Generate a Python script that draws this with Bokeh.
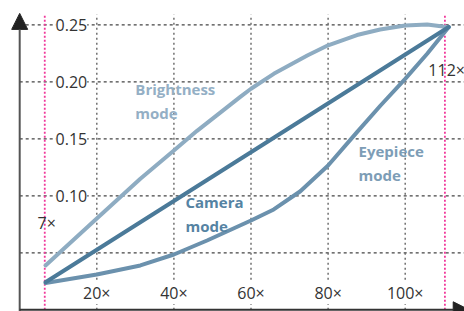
from bokeh.plotting import figure
from bokeh.models import Arrow, NormalHead
from bokeh.core.properties import value
from bokeh.embed import file_html
from bokeh.resources import INLINE

# ---- data ----
bright_x = [6.7, 20, 31.3, 40, 46, 57.3, 60, 65.9, 74.6, 80, 87.5, 93.5, 100, 105.7, 111.3]
bright_y = [0.0389, 0.080, 0.115, 0.1397, 0.157, 0.187, 0.1939, 0.207, 0.223, 0.232,
            0.241, 0.2458, 0.2494, 0.2503, 0.2479]

camera_x = [6.7, 111.3]
camera_y = [0.0242, 0.248]

eye_x = [6.7, 20, 31.3, 40, 48.6, 60, 65.9, 72.8, 80, 87.5, 93.6, 100, 105.7, 111.3]
eye_y = [0.0235, 0.031, 0.0389, 0.0485, 0.0608, 0.0783, 0.0880, 0.1040, 0.1266, 0.1558,
         0.1792, 0.2026, 0.2246, 0.248]

x_ticks = [20, 40, 60, 80, 100]
x_tick_labels = ["20×", "40×", "60×", "80×", "100×"]
y_grid = [0.05, 0.10, 0.15, 0.20, 0.25]
y_ticks = [0.10, 0.15, 0.20, 0.25]
y_tick_labels = ["0.10", "0.15", "0.20", "0.25"]

mag_lines = [6.5, 110.3]
mag_labels = ["7×", "112×"]

FONT = value("Open Sans")
X0, X1 = -4.98, 115.38
Y0, Y1 = -0.0015, 0.2713
TOP = 0.259

p = figure(width=464, height=311, x_range=(X0, X1), y_range=(Y0, Y1),
           x_axis_type=None, y_axis_type=None, output_backend="svg",
           toolbar_location=None, min_border=0, outline_line_color=None)
p.grid.visible = False
p.background_fill_color = "white"

# grid lines
p.segment(x0=[0] * len(y_grid), x1=[X1] * len(y_grid), y0=y_grid, y1=y_grid,
          line_color="#444444", line_dash="3 3", line_width=1.2)
p.segment(x0=x_ticks, x1=x_ticks, y0=[0] * len(x_ticks), y1=[TOP] * len(x_ticks),
          line_color="#707070", line_dash="2 3", line_width=1.5)

# magnification limits
p.segment(x0=mag_lines, x1=mag_lines, y0=[0, 0], y1=[TOP, TOP],
          line_color="#f0399b", line_dash="2 2", line_width=1.8)

# curves
p.line(bright_x, bright_y, line_color="#8eacc2", line_width=4, line_cap="round", line_join="round")
p.line(eye_x, eye_y, line_color="#6b91ad", line_width=4, line_cap="round", line_join="round")
p.line(camera_x, camera_y, line_color="#4b7a99", line_width=4, line_cap="round", line_join="round")

# tick labels
p.text(x=[13.4] * len(y_ticks), y=y_ticks, text=y_tick_labels, text_font=FONT,
       text_font_size="16px", text_color="#333333", text_align="center",
       text_baseline="middle", background_fill_color="white")
p.text(x=x_ticks, y=[0.0147] * len(x_ticks), text=x_tick_labels, text_font=FONT,
       text_font_size="16px", text_color="#333333", text_align="center",
       text_baseline="middle", background_fill_color="white")

# magnification labels
p.text(x=[7.0], y=[0.0765], text=[mag_labels[0]], text_font=FONT, text_font_size="16px",
       text_color="#333333", text_align="center", text_baseline="middle")
p.text(x=[106.0], y=[0.2107], text=[mag_labels[1]], text_font=FONT, text_font_size="16px",
       text_color="#333333", text_align="left", text_baseline="middle")

# series labels
p.text(x=[30.0], y=[0.2022], text=["Brightness\nmode"], text_font=FONT, text_font_size="15px",
       text_font_style="bold", text_color="#94afc5", text_align="left", text_baseline="top")
p.text(x=[43.0], y=[0.1031], text=["Camera\nmode"], text_font=FONT, text_font_size="15px",
       text_font_style="bold", text_color="#5583a3", text_align="left", text_baseline="top")
p.text(x=[87.9], y=[0.1478], text=["Eyepiece\nmode"], text_font=FONT, text_font_size="15px",
       text_font_style="bold", text_color="#7d9db6", text_align="left", text_baseline="top")

# axes with arrows
p.add_layout(Arrow(end=NormalHead(size=16, fill_color="#222222", line_color="#222222"),
                   x_start=0, y_start=Y0, x_end=0, y_end=0.260,
                   line_color="#555555", line_width=2))
p.add_layout(Arrow(end=NormalHead(size=16, fill_color="#222222", line_color="#222222"),
                   x_start=0, y_start=0, x_end=116.6, y_end=0,
                   line_color="#333333", line_width=2))

open("out.html", "w").write(file_html(p, INLINE))
